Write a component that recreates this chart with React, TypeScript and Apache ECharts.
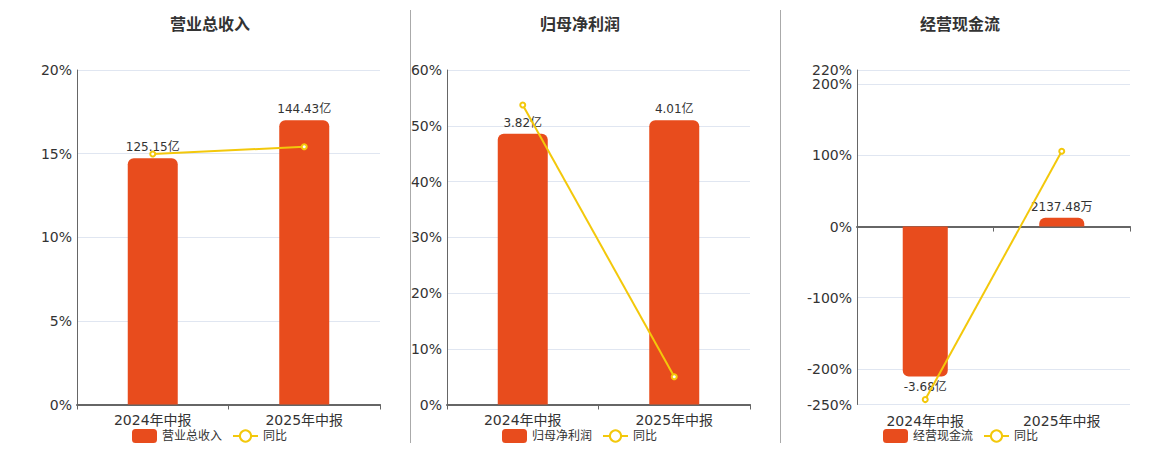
import React, { useEffect, useRef } from "react";
import * as echarts from "echarts";

const categories = ["2024年中报", "2025年中报"];

const revenueName = "营业总收入";
const revenue = [125.15, 144.43];
const revenueLabels = ["125.15亿", "144.43亿"];
const revenueYoy = [14.98, 15.41];

const profitName = "归母净利润";
const profit = [3.82, 4.01];
const profitLabels = ["3.82亿", "4.01亿"];
const profitYoy = [53.72, 4.97];

const cashName = "经营现金流";
const cashflow = [-3.68, 0.213748];
const cashLabels = ["-3.68亿", "2137.48万"];
const cashYoy = [-243.1, 105.81];

const yoyName = "同比";

const BAR_COLOR = "#E84C1D";
const LINE_COLOR = "#F3C80B";
const FONT = "'DejaVu Sans', 'Noto Sans CJK SC', sans-serif";

export default function App() {
  const ref = useRef<HTMLDivElement>(null);

  useEffect(() => {
    if (!ref.current) return;
    const chart = echarts.init(ref.current, null, { renderer: "svg" });

    const panels = [
      { name: revenueName, bars: revenue, labels: revenueLabels, yoy: revenueYoy, left: 77, right: 780, pMin: 0, pMax: 20, pInt: 5, bMin: 0, bMax: 170, title: 210, legendLeft: 132 },
      { name: profitName, bars: profit, labels: profitLabels, yoy: profitYoy, left: 447, right: 410, pMin: 0, pMax: 60, pInt: 10, bMin: 0, bMax: 4.718, title: 580, legendLeft: 502 },
      { name: cashName, bars: cashflow, labels: cashLabels, yoy: cashYoy, left: 857, right: 30, pMin: -250, pMax: 220, pInt: undefined, bMin: -4.37, bMax: 3.845, title: 960, legendLeft: 883 },
    ];

    const grid: any[] = [];
    const xAxis: any[] = [];
    const yAxis: any[] = [];
    const series: any[] = [];
    const legend: any[] = [];
    const graphic: any[] = [];

    panels.forEach((p, i) => {
      grid.push({ left: p.left, right: p.right, top: 70, bottom: 45.5 });
      const hasNeg = p.bars.some((v) => v < 0);
      const xMainIndex = xAxis.length;
      xAxis.push({
        type: "category",
        gridIndex: i,
        data: categories,
        position: "bottom",
        axisLine: { show: true, onZero: true, lineStyle: { color: "#666", width: 2 } },
        axisTick: { show: true, length: 5, lineStyle: { color: "#666", width: 1 } },
        axisLabel: { show: !hasNeg, fontSize: 14, color: "#333", margin: 8, fontFamily: FONT },
      });
      if (hasNeg) {
        xAxis.push({
          type: "category",
          gridIndex: i,
          data: categories,
          position: "bottom",
          axisLine: { show: false, onZero: false },
          axisTick: { show: false },
          axisLabel: { show: true, fontSize: 14, color: "#333", margin: 9, fontFamily: FONT },
        });
      }
      const yPctIndex = yAxis.length;
      const pctAxis: any = {
        type: "value",
        gridIndex: i,
        position: "left",
        min: p.pMin,
        max: p.pMax,
        axisLine: { show: true, lineStyle: { color: "#666", width: 1 } },
        axisTick: { show: false },
        axisLabel: { formatter: "{value}%", fontSize: 14, color: "#333", margin: 5, fontFamily: FONT, showMinLabel: true, showMaxLabel: true },
        splitLine: { show: true, lineStyle: { color: "#E0E6F1" } },
      };
      if (p.pInt !== undefined) pctAxis.interval = p.pInt;
      yAxis.push(pctAxis);
      const yBarIndex = yAxis.length;
      yAxis.push({
        type: "value",
        gridIndex: i,
        position: "left",
        show: false,
        min: p.bMin,
        max: p.bMax,
        splitLine: { show: false },
      });

      series.push({
        type: "bar",
        name: p.name,
        xAxisIndex: xMainIndex,
        yAxisIndex: yBarIndex,
        barWidth: "33%",
        z: 2,
        data: p.bars.map((v, k) => ({
          value: v,
          itemStyle: { borderRadius: v >= 0 ? [6, 6, 0, 0] : [0, 0, 6, 6] },
          label: { position: v >= 0 ? "top" : "bottom" },
        })),
        itemStyle: { color: BAR_COLOR },
        label: {
          show: true,
          distance: 5,
          fontSize: 12,
          color: "#333",
          fontFamily: FONT,
          formatter: (params: any) => p.labels[params.dataIndex],
        },
      });
      series.push({
        type: "line",
        name: yoyName,
        xAxisIndex: xMainIndex,
        yAxisIndex: yPctIndex,
        data: p.yoy,
        z: 5,
        symbol: "emptyCircle",
        symbolSize: 5,
        lineStyle: { color: LINE_COLOR, width: 2 },
        itemStyle: { color: LINE_COLOR },
      });

      legend.push({
        left: p.legendLeft,
        top: 429,
        padding: 0,
        itemWidth: 25,
        itemHeight: 14,
        itemGap: 10,
        data: [p.name, yoyName],
        textStyle: { fontSize: 12, color: "#333", fontFamily: FONT },
      });

      graphic.push({
        type: "text",
        x: p.title,
        y: 23,
        style: {
          text: p.name,
          align: "center",
          verticalAlign: "middle",
          font: "bold 16px 'Noto Sans CJK SC', sans-serif",
          fill: "#333",
        },
      });
    });

    graphic.push({ type: "line", shape: { x1: 410.5, y1: 10, x2: 410.5, y2: 443 }, style: { stroke: "#aaa", lineWidth: 1 } });
    graphic.push({ type: "line", shape: { x1: 780.5, y1: 10, x2: 780.5, y2: 443 }, style: { stroke: "#aaa", lineWidth: 1 } });

    chart.setOption({
      animation: false,
      textStyle: { fontFamily: FONT },
      grid,
      xAxis,
      yAxis,
      series,
      legend,
      graphic,
    });

    return () => chart.dispose();
  }, []);

  return (
    <div
      ref={ref}
      style={{ position: "absolute", left: 0, top: 0, width: 1160, height: 450 }}
    />
  );
}
